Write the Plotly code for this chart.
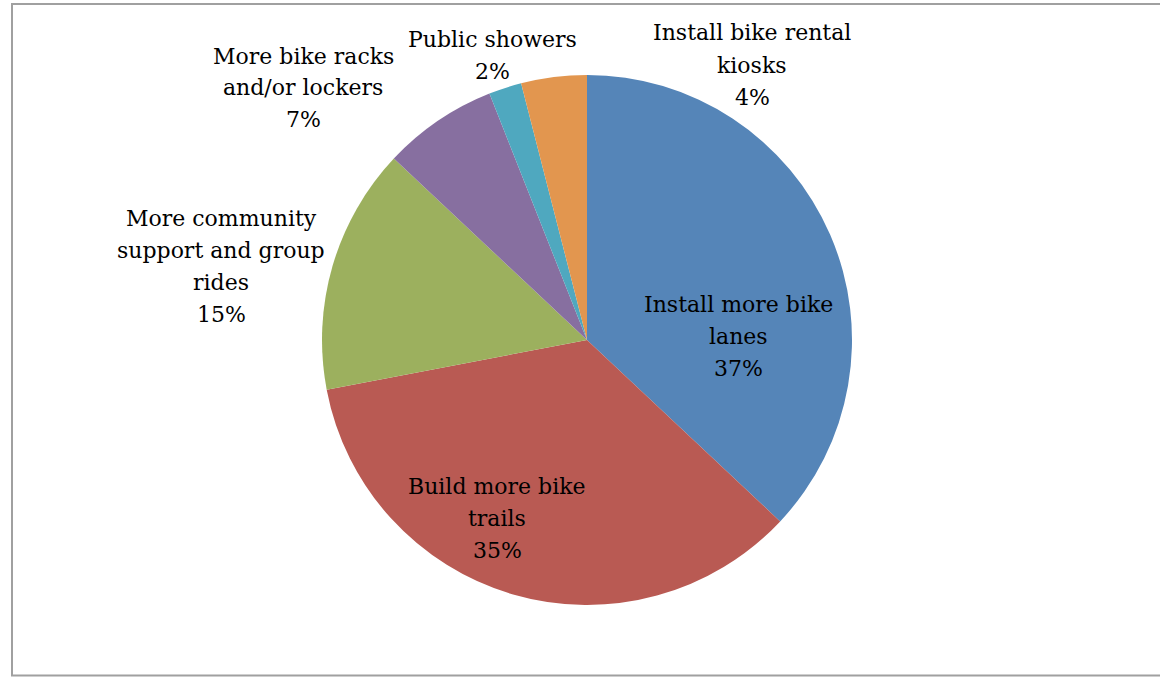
import plotly.graph_objects as go

categories = [
    "Install more bike lanes",
    "Build more bike trails",
    "More community support and group rides",
    "More bike racks and/or lockers",
    "Public showers",
    "Install bike rental kiosks",
]
display_labels = [
    "Install more bike<br>lanes",
    "Build more bike<br>trails",
    "More community<br>support and group<br>rides",
    "More bike racks<br>and/or lockers",
    "Public showers",
    "Install bike rental<br>kiosks",
]
values = [37, 35, 15, 7, 2, 4]
colors = ["#5585B8", "#B95A53", "#9CB05E", "#876FA0", "#4FA8BF", "#E2964F"]

W, H = 1160, 677
cx, cy, R = 587, 340, 265
FONT = dict(family="DejaVu Serif", size=22, color="#000000")
LINE_GAP = 32

# data-label block centres in pixels (Excel "best fit" placement)
label_pos = [
    (738, 336),
    (497, 518),
    (221, 266),
    (303, 88),
    (492, 55),
    (752, 65),
]

total = sum(values)
fig = go.Figure(
    go.Pie(
        labels=categories,
        values=values,
        textinfo="none",
        sort=False,
        direction="clockwise",
        rotation=0,
        marker=dict(colors=colors, line=dict(width=0)),
        showlegend=False,
        automargin=False,
        hoverinfo="label+percent",
        domain=dict(x=[(cx - R) / W, (cx + R) / W], y=[(H - cy - R) / H, (H - cy + R) / H]),
    )
)

for i, (px, py) in enumerate(label_pos):
    pct = f"{values[i] / total * 100:.0f}%"
    lines = display_labels[i].split("<br>") + [pct]
    n = len(lines)
    for k, line in enumerate(lines):
        ly = py + (k - (n - 1) / 2) * LINE_GAP
        fig.add_annotation(
            x=px / W, y=1 - ly / H, xref="paper", yref="paper",
            text=line, showarrow=False, align="center",
            xanchor="center", yanchor="middle", font=FONT,
        )

fig.add_shape(
    type="rect", xref="paper", yref="paper",
    x0=12 / W, x1=1.01, y0=1.5 / H, y1=1 - 4 / H,
    line=dict(color="#A0A0A0", width=2), fillcolor="rgba(0,0,0,0)",
)

fig.update_layout(
    width=W, height=H,
    margin=dict(l=0, r=0, t=0, b=0, autoexpand=False),
    paper_bgcolor="white",
    plot_bgcolor="white",
)

fig.write_html("out.html")
